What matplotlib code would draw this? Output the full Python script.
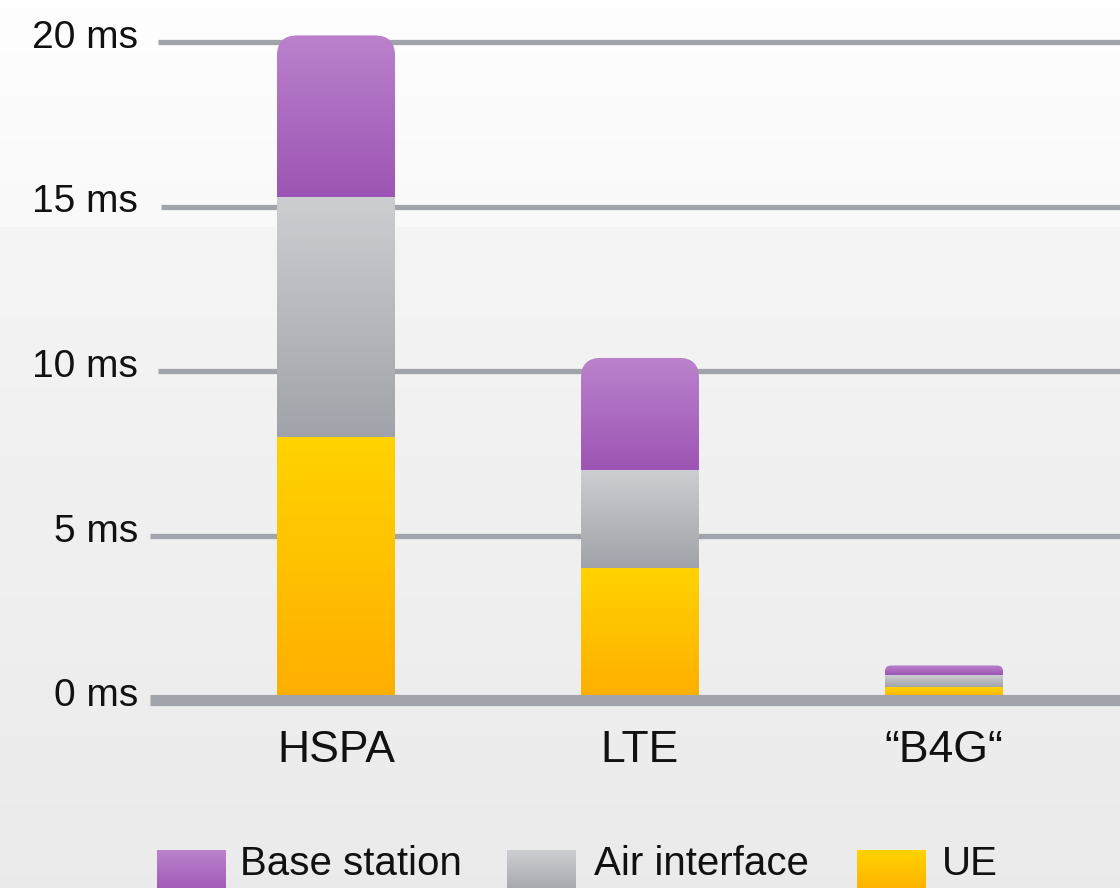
import numpy as np
import matplotlib
matplotlib.use("Agg")
import matplotlib.pyplot as plt
from matplotlib.colors import LinearSegmentedColormap
from matplotlib.patches import FancyBboxPatch, Rectangle

plt.rcParams['font.family'] = ['Liberation Sans', 'DejaVu Sans']

# data (ms)
categories = ['HSPA', 'LTE', '\u201cB4G\u201c']
ue = [8.0, 4.0, 0.4]
air = [7.3, 3.0, 0.35]
base = [4.9, 3.4, 0.3]
yticks = [0, 5, 10, 15, 20]
ytick_labels = ['0 ms', '5 ms', '10 ms', '15 ms', '20 ms']
series_names = ['Base station', 'Air interface', 'UE']

# gradients (top colour, bottom colour)
grad_base = ('#bb82cc', '#9c55b4')
grad_air = ('#cdced2', '#a0a3a9')
grad_ue = ('#ffd300', '#ffae00')

W, H = 1120, 888
fig = plt.figure(figsize=(W / 100, H / 100), dpi=100)

# background: light gradient with a small step
bg = fig.add_axes([0, 0, 1, 1])
bg.set_axis_off()
rows = np.linspace(0, 1, H)
step = 228 / H
shade = np.where(rows < step, 0.997 - 0.08 * rows, 0.958 - 0.05 * (rows - step))
bg.imshow(np.repeat(shade[:, None, None], 3, axis=2).repeat(4, axis=1), aspect='auto',
          extent=[0, 1, 0, 1], zorder=0)
bg.set_xlim(0, 1)
bg.set_ylim(0, 1)

x0_px, x1_px = 150, 1120
y0_px, y1_px = 700, 20
ax = fig.add_axes([x0_px / W, 1 - y0_px / H, (x1_px - x0_px) / W, (y0_px - y1_px) / H])
ax.patch.set_alpha(0)
ppu_y = 32.9
ax.set_ylim(0, (y0_px - y1_px) / ppu_y)
ax.set_xlim(-(336 - x0_px) / 304, 2 + (x1_px - 944) / 304)
for s in ax.spines.values():
    s.set_visible(False)
ax.set_xticks([])
ax.set_yticks([])

# gridlines
grid_start = {0: 150, 5: 150, 10: 158, 15: 161, 20: 158}
x_lo, x_hi = ax.get_xlim()
for v in yticks:
    xs = (grid_start[v] - x0_px) / (x1_px - x0_px)
    ax.axhline(v, xmin=xs, xmax=1, color='#a1a4ab',
               lw=8 if v == 0 else 3.8, zorder=5 if v == 0 else 1, clip_on=False,
               solid_capstyle='butt')
    fig.text(138 / W, 1 - (y0_px - v * ppu_y - 4) / H, ytick_labels[v // 5],
             ha='right', va='center', fontsize=28, color='#111111')


def gradient_fill(ax, patch, colors, x, y0, y1, w, z):
    cmap = LinearSegmentedColormap.from_list('g', [colors[1], colors[0]])
    grad = np.linspace(0, 1, 256).reshape(-1, 1)
    im = ax.imshow(grad, cmap=cmap, aspect='auto', origin='lower',
                   extent=[x - w / 2, x + w / 2, y0, y1], zorder=z,
                   interpolation='bicubic')
    ax.add_patch(patch)
    im.set_clip_path(patch)


bar_w = 118 / 304
xs = np.arange(len(categories))
aspect = 304 / ppu_y
for i, x in enumerate(xs):
    b0 = 0
    b1 = ue[i]
    b2 = ue[i] + air[i]
    b3 = b2 + base[i]
    # top segment with rounded corners
    r_px = 20 if base[i] > 1 else 6
    r = r_px / 304
    ext = r_px / ppu_y
    top = FancyBboxPatch((x - bar_w / 2, b2 - ext), bar_w, b3 - b2 + ext,
                         boxstyle='round,pad=0,rounding_size=%f' % r,
                         mutation_aspect=aspect, facecolor='none', edgecolor='none')
    gradient_fill(ax, top, grad_base, x, b2, b3, bar_w, 2)
    mid = Rectangle((x - bar_w / 2, b1), bar_w, b2 - b1, facecolor='none', edgecolor='none')
    gradient_fill(ax, mid, grad_air, x, b1, b2, bar_w, 3)
    low = Rectangle((x - bar_w / 2, b0 - 0.3), bar_w, b1 - b0 + 0.3, facecolor='none', edgecolor='none')
    gradient_fill(ax, low, grad_ue, x, b0, b1, bar_w, 4)
    fig.text((336 + 304 * i) / W, 1 - 750 / H, categories[i], ha='center', va='center',
             fontsize=32, color='#111111')

ax.set_xlim(x_lo, x_hi)
ax.set_ylim(0, (y0_px - y1_px) / ppu_y)

# legend
leg_items = [(157, 240, grad_base), (507, 594, grad_air), (857, 942, grad_ue)]
lg = fig.add_axes([0, 0, 1, 1])
lg.set_axis_off()
lg.patch.set_alpha(0)
lg.set_xlim(0, W)
lg.set_ylim(H, 0)
for (sx, tx, g), name in zip(leg_items, series_names):
    cmap = LinearSegmentedColormap.from_list('g', [g[0], g[1]])
    grad = np.linspace(0, 1, 64).reshape(-1, 1)
    lg.imshow(grad, cmap=cmap, aspect='auto', extent=[sx, sx + 69, 895, 850],
              interpolation='bicubic')
    lg.text(tx, 864, name, ha='left', va='center', fontsize=29, color='#111111')
lg.set_xlim(0, W)
lg.set_ylim(H, 0)

fig.savefig('out.png', dpi=100)
